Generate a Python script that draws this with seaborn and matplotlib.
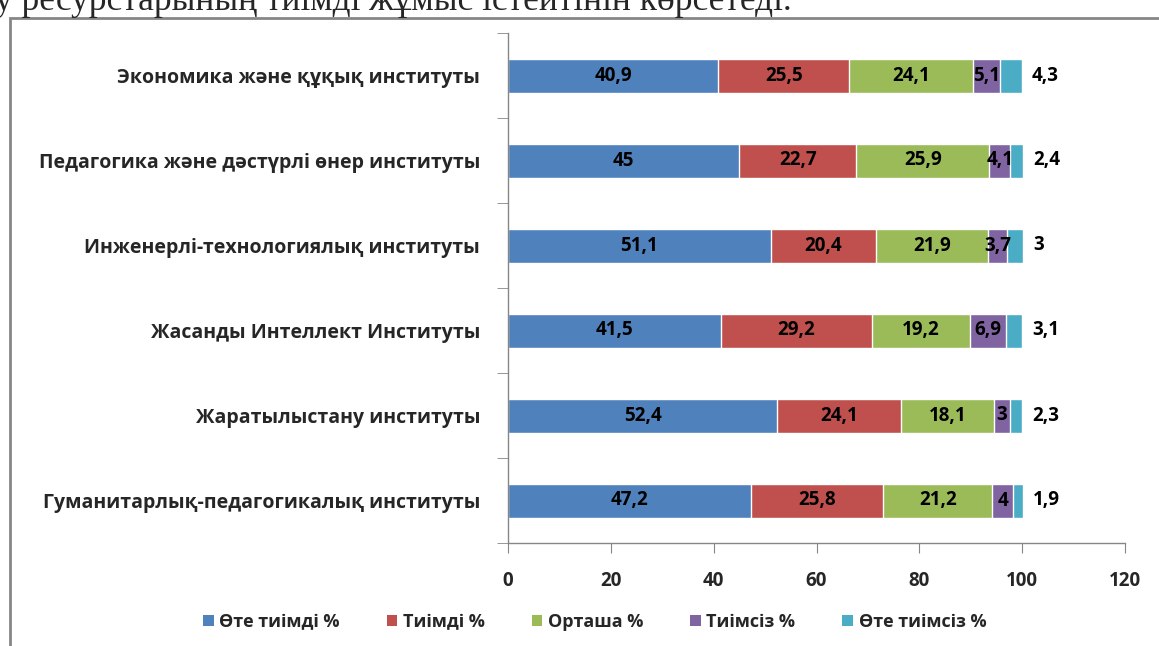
import numpy as np
import pandas as pd
import matplotlib
matplotlib.use("Agg")
import matplotlib.pyplot as plt
from matplotlib.patches import Patch, Rectangle
import seaborn as sns

# институттар (жоғарыдан төмен)
institutes = ['Экономика және құқық институты',
              'Педагогика және дәстүрлі өнер институты',
              'Инженерлі-технологиялық институты',
              'Жасанды Интеллект Институты',
              'Жаратылыстану институты',
              'Гуманитарлық-педагогикалық институты']

ote_tiimdi = [40.9, 45, 51.1, 41.5, 52.4, 47.2]
tiimdi = [25.5, 22.7, 20.4, 29.2, 24.1, 25.8]
ortasha = [24.1, 25.9, 21.9, 19.2, 18.1, 21.2]
tiimsiz = [5.1, 4.1, 3.7, 6.9, 3, 4]
ote_tiimsiz = [4.3, 2.4, 3, 3.1, 2.3, 1.9]

series = ['Өте тиімді %', 'Тиімді %', 'Орташа %', 'Тиімсіз %', 'Өте тиімсіз %']
colors = ['#4F81BD', '#C0504D', '#9BBB59', '#8064A2', '#4BACC6']

data = pd.DataFrame(np.array([ote_tiimdi, tiimdi, ortasha, tiimsiz, ote_tiimsiz]).T,
                    index=institutes, columns=series)
cum = data.cumsum(axis=1)

sns.set_style('white')
plt.rcParams['font.family'] = ['Open Sans', 'DejaVu Sans']

fig = plt.figure(figsize=(11.59, 6.46), dpi=100)
ax = fig.add_axes([508 / 1159, 1 - 543 / 646, 617 / 1159, 510 / 646])

# stacked bars: draw cumulative totals from the widest to the narrowest
for s, c in reversed(list(zip(series, colors))):
    sns.barplot(x=cum[s].values, y=institutes, color=c, width=0.4,
                saturation=1, orient='h', errorbar=None, ax=ax)

def fmt(v):
    return f"{v:g}".replace('.', ',')

for j, inst in enumerate(institutes):
    left = 0
    for k, s in enumerate(series):
        v = data.loc[inst, s]
        if k < len(series) - 1:
            ax.text(left + v / 2, j, fmt(v), ha='center', va='center',
                    fontsize=13.5, fontweight='bold', color='black')
        else:
            ax.text(left + v + 2.0, j, fmt(v), ha='left', va='center',
                    fontsize=13.5, fontweight='bold', color='black')
        left += v

ax.set_xlim(0, 120)
ax.set_ylim(5.5, -0.5)
ax.set_xticks(range(0, 121, 20))
ax.set_yticks(np.arange(-0.5, 6, 1), minor=True)
ax.set_ylabel('')
ax.set_xlabel('')
for lab in ax.get_xticklabels() + ax.get_yticklabels():
    lab.set_fontweight('bold')
ax.tick_params(axis='x', which='major', length=7, color='#868686', pad=13,
               labelsize=13.5, direction='out', bottom=True)
ax.tick_params(axis='y', which='major', length=0, pad=20, labelsize=14)
ax.tick_params(axis='y', which='minor', length=8, color='#868686', left=True)
for side in ['top', 'right']:
    ax.spines[side].set_visible(False)
for side in ['left', 'bottom']:
    ax.spines[side].set_color('#868686')
    ax.spines[side].set_linewidth(1)

handles = [Patch(facecolor=c, edgecolor='none') for c in colors]
fig.legend(handles, series, loc='center', bbox_to_anchor=(0.513, 1 - 622 / 646),
           ncol=5, frameon=False, prop={'size': 13, 'weight': 'bold'},
           handlelength=0.6, handleheight=0.6, handletextpad=0.3, columnspacing=2.6)

# рамка мен жоғарыдағы кесілген мәтін
fig.patches.append(Rectangle((10 / 1159, -0.1), 1.2, 1 - 18 / 646 + 0.1,
                             transform=fig.transFigure, fill=False,
                             edgecolor='#868686', linewidth=2))
fig.text(-0.004, 1 - 10 / 646, 'у ресурстарының тиімді жұмыс істейтінін көрсетеді.',
         family=['Liberation Serif', 'DejaVu Serif'], fontsize=25.5, va='baseline')

fig.savefig('out.png', dpi=100)
